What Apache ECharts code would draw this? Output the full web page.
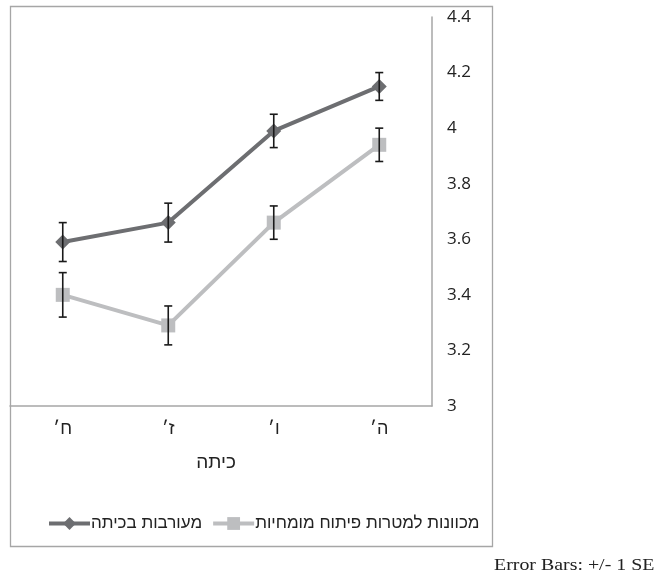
<!DOCTYPE html>
<html><head><meta charset="utf-8">
<script src="https://cdn.jsdelivr.net/npm/echarts@6/dist/echarts.min.js"></script>
<style>html,body{margin:0;padding:0;background:#fff}#c{width:655px;height:578px}</style>
</head><body><div id="c"></div>
<script>
var categories = ['ח׳', 'ז׳', 'ו׳', 'ה׳'];
var engagementName = 'מעורבות בכיתה';
var engagement = [3.59, 3.66, 3.99, 4.15];
var engagementSE = [0.07, 0.07, 0.06, 0.05];
var masteryName = 'מכוונות למטרות פיתוח מומחיות';
var mastery = [3.40, 3.29, 3.66, 3.94];
var masterySE = [0.08, 0.07, 0.06, 0.06];
var yTicks = [3, 3.2, 3.4, 3.6, 3.8, 4, 4.2, 4.4];
var xAxisName = 'כיתה';
var noteText = 'Error Bars: +/- 1 SE';

var FONT = '"Open Sans", "DejaVu Sans", sans-serif';
var HFONT = '"Liberation Sans", Arial, "DejaVu Sans", sans-serif';

function errData(vals, se) {
  return vals.map(function (v, i) { return [i, v - se[i], v + se[i]]; });
}
function errRender(params, api) {
  var x = api.value(0);
  var lo = api.coord([x, api.value(1)]);
  var hi = api.coord([x, api.value(2)]);
  var w = 4;
  var st = { stroke: '#1a1a1a', lineWidth: 1.6 };
  return {
    type: 'group',
    children: [
      { type: 'line', shape: { x1: lo[0], y1: lo[1], x2: hi[0], y2: hi[1] }, style: st },
      { type: 'line', shape: { x1: lo[0] - w, y1: lo[1], x2: lo[0] + w, y2: lo[1] }, style: st },
      { type: 'line', shape: { x1: hi[0] - w, y1: hi[1], x2: hi[0] + w, y2: hi[1] }, style: st }
    ]
  };
}

var chart = echarts.init(document.getElementById('c'), null, { renderer: 'canvas' });
chart.setOption({
  animation: false,
  backgroundColor: '#fff',
  grid: { left: 10, right: 223, top: 17, bottom: 172 },
  legend: {
    left: 47, top: 515, padding: 0,
    itemWidth: 41, itemHeight: 16, itemGap: 9,
    data: [engagementName, masteryName],
    lineStyle: { width: 4 },
    textStyle: { fontFamily: HFONT, fontSize: 17, color: '#222', padding: [0, 0, 0, -4] }
  },
  xAxis: {
    type: 'category',
    data: categories,
    boundaryGap: true,
    name: xAxisName,
    nameLocation: 'middle',
    nameGap: 47,
    nameTextStyle: { fontFamily: HFONT, fontSize: 19, color: '#222', padding: [0, 10, 0, 0] },
    axisLine: { show: true, lineStyle: { color: '#a6a6a6', width: 1.5 } },
    axisTick: { show: false },
    axisLabel: { fontFamily: HFONT, fontSize: 18, color: '#222', margin: 14 }
  },
  yAxis: {
    type: 'value',
    position: 'right',
    min: yTicks[0], max: yTicks[yTicks.length - 1], interval: 0.2,
    axisLine: { show: true, lineStyle: { color: '#a6a6a6', width: 1.5 } },
    axisTick: { show: false },
    splitLine: { show: false },
    axisLabel: { fontFamily: FONT, fontSize: 17, color: '#222', margin: 15,
      formatter: function (v) { return String(Math.round(v * 10) / 10); } }
  },
  series: [
    {
      name: engagementName, type: 'line', data: engagement,
      symbol: 'diamond', symbolSize: 15,
      lineStyle: { color: '#6d6e71', width: 4 },
      itemStyle: { color: '#6d6e71' }, z: 3
    },
    {
      name: masteryName, type: 'line', data: mastery,
      symbol: 'rect', symbolSize: 14,
      lineStyle: { color: '#bdbec0', width: 4 },
      itemStyle: { color: '#bdbec0' }, z: 3
    },
    { type: 'custom', name: 'err1', data: errData(engagement, engagementSE), renderItem: errRender, z: 4, silent: true },
    { type: 'custom', name: 'err2', data: errData(mastery, masterySE), renderItem: errRender, z: 4, silent: true }
  ],
  graphic: [
    { type: 'rect', shape: { x: 10.5, y: 6.5, width: 482, height: 540 },
      style: { fill: null, stroke: '#a6a6a6', lineWidth: 1.3 }, silent: true },
    { type: 'text', x: 494, y: 557, scaleX: 1.17,
      style: { text: noteText, font: '17px "Liberation Serif", "Times New Roman", serif', fill: '#222' } }
  ]
});
</script></body></html>
